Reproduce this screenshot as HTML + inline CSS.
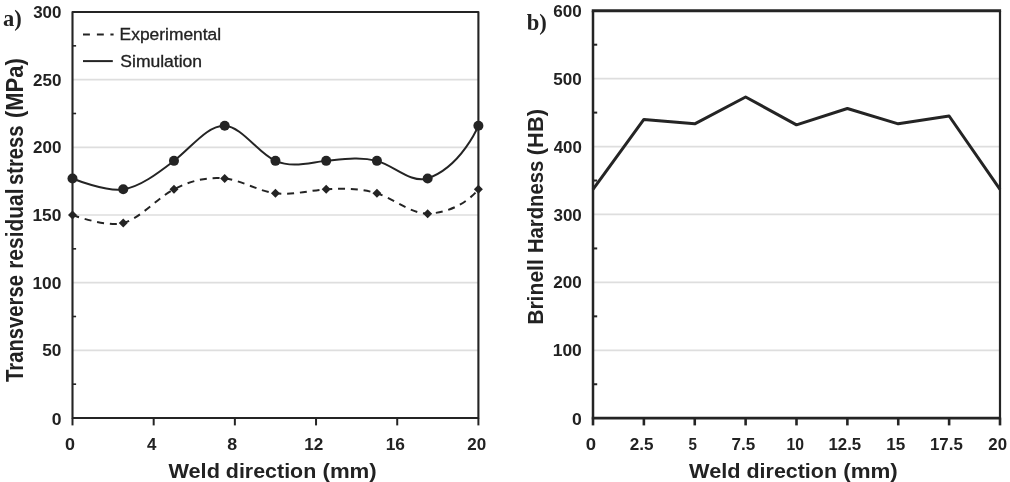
<!DOCTYPE html>
<html lang="en"><head><meta charset="utf-8"><title>Residual stress and hardness along weld direction</title>
<style>html,body{margin:0;padding:0;background:#fff;}body{width:1010px;height:482px;overflow:hidden;}svg{display:block;}text{white-space:pre;}</style>
</head><body>
<svg width="1010" height="482" viewBox="0 0 1010 482">
<rect x="0" y="0" width="1010" height="482" fill="#ffffff"/>
<g id="chart-a">
<line x1="72.50" x2="478.40" y1="350.33" y2="350.33" stroke="#dedede" stroke-width="1.7"/>
<line x1="72.50" x2="478.40" y1="282.67" y2="282.67" stroke="#dedede" stroke-width="1.7"/>
<line x1="72.50" x2="478.40" y1="215.00" y2="215.00" stroke="#dedede" stroke-width="1.7"/>
<line x1="72.50" x2="478.40" y1="147.33" y2="147.33" stroke="#dedede" stroke-width="1.7"/>
<line x1="72.50" x2="478.40" y1="79.67" y2="79.67" stroke="#dedede" stroke-width="1.7"/>
<rect x="72.50" y="12.00" width="405.90" height="406.00" fill="none" stroke="#242424" stroke-width="2.1" stroke-linejoin="round"/>
<line x1="72.50" x2="76.10" y1="384.17" y2="384.17" stroke="#242424" stroke-width="1.6"/>
<line x1="72.50" x2="76.10" y1="316.50" y2="316.50" stroke="#242424" stroke-width="1.6"/>
<line x1="72.50" x2="76.10" y1="248.83" y2="248.83" stroke="#242424" stroke-width="1.6"/>
<line x1="72.50" x2="76.10" y1="181.17" y2="181.17" stroke="#242424" stroke-width="1.6"/>
<line x1="72.50" x2="76.10" y1="113.50" y2="113.50" stroke="#242424" stroke-width="1.6"/>
<line x1="72.50" x2="76.10" y1="45.83" y2="45.83" stroke="#242424" stroke-width="1.6"/>
<line x1="72.50" x2="72.50" y1="418.00" y2="425.4" stroke="#242424" stroke-width="2"/>
<line x1="153.68" x2="153.68" y1="418.00" y2="425.4" stroke="#242424" stroke-width="2"/>
<line x1="234.86" x2="234.86" y1="418.00" y2="425.4" stroke="#242424" stroke-width="2"/>
<line x1="316.04" x2="316.04" y1="418.00" y2="425.4" stroke="#242424" stroke-width="2"/>
<line x1="397.22" x2="397.22" y1="418.00" y2="425.4" stroke="#242424" stroke-width="2"/>
<line x1="478.40" x2="478.40" y1="418.00" y2="425.4" stroke="#242424" stroke-width="2"/>
<path d="M72.50,215.00 C72.50,215.00 106.33,227.41 123.24,223.12 C140.15,218.29 157.06,198.13 173.97,189.29 C190.89,180.45 207.80,176.73 224.71,178.46 C241.62,180.19 258.54,191.22 275.45,193.35 C292.36,195.47 309.27,190.31 326.19,189.29 C343.10,188.27 360.01,188.17 376.93,193.35 C393.84,198.52 410.75,213.82 427.66,213.65 C461.49,212.29 478.40,189.29 478.40,189.29" fill="none" stroke="#242424" stroke-width="2" stroke-dasharray="7 5.8"/>
<path d="M72.50,178.46 C72.50,178.46 106.33,192.22 123.24,189.29 C140.15,186.75 157.06,173.80 173.97,160.87 C190.89,147.93 207.80,124.96 224.71,125.68 C241.62,126.40 258.54,153.42 275.45,160.87 C292.36,168.32 309.27,162.65 326.19,160.87 C343.10,159.08 360.01,156.34 376.93,160.87 C393.84,165.40 410.75,183.65 427.66,178.46 C461.49,166.73 478.40,125.68 478.40,125.68" fill="none" stroke="#242424" stroke-width="2"/>
<path d="M72.50,210.50 L77.00,215.00 L72.50,219.50 L68.00,215.00 Z" fill="#242424"/>
<path d="M123.24,218.62 L127.74,223.12 L123.24,227.62 L118.74,223.12 Z" fill="#242424"/>
<path d="M173.97,184.79 L178.47,189.29 L173.97,193.79 L169.47,189.29 Z" fill="#242424"/>
<path d="M224.71,173.96 L229.21,178.46 L224.71,182.96 L220.21,178.46 Z" fill="#242424"/>
<path d="M275.45,188.85 L279.95,193.35 L275.45,197.85 L270.95,193.35 Z" fill="#242424"/>
<path d="M326.19,184.79 L330.69,189.29 L326.19,193.79 L321.69,189.29 Z" fill="#242424"/>
<path d="M376.93,188.85 L381.43,193.35 L376.93,197.85 L372.43,193.35 Z" fill="#242424"/>
<path d="M427.66,209.15 L432.16,213.65 L427.66,218.15 L423.16,213.65 Z" fill="#242424"/>
<path d="M478.40,184.79 L482.90,189.29 L478.40,193.79 L473.90,189.29 Z" fill="#242424"/>
<circle cx="72.50" cy="178.46" r="5" fill="#242424"/>
<circle cx="123.24" cy="189.29" r="5" fill="#242424"/>
<circle cx="173.97" cy="160.87" r="5" fill="#242424"/>
<circle cx="224.71" cy="125.68" r="5" fill="#242424"/>
<circle cx="275.45" cy="160.87" r="5" fill="#242424"/>
<circle cx="326.19" cy="160.87" r="5" fill="#242424"/>
<circle cx="376.93" cy="160.87" r="5" fill="#242424"/>
<circle cx="427.66" cy="178.46" r="5" fill="#242424"/>
<circle cx="478.40" cy="125.68" r="5" fill="#242424"/>
<line x1="83" x2="113.6" y1="34.6" y2="34.6" stroke="#242424" stroke-width="2" stroke-dasharray="6.9 7 6.9 6.6 3.2 20"/>
<line x1="83" x2="112.8" y1="61.1" y2="61.1" stroke="#242424" stroke-width="2"/>
</g>
<g id="chart-b">
<line x1="593.00" x2="1000.00" y1="350.29" y2="350.29" stroke="#dedede" stroke-width="1.7"/>
<line x1="593.00" x2="1000.00" y1="282.38" y2="282.38" stroke="#dedede" stroke-width="1.7"/>
<line x1="593.00" x2="1000.00" y1="214.47" y2="214.47" stroke="#dedede" stroke-width="1.7"/>
<line x1="593.00" x2="1000.00" y1="146.57" y2="146.57" stroke="#dedede" stroke-width="1.7"/>
<line x1="593.00" x2="1000.00" y1="78.66" y2="78.66" stroke="#dedede" stroke-width="1.7"/>
<line x1="591.75" x2="1001.10" y1="10.75" y2="10.75" stroke="#242424" stroke-width="2.8"/>
<line x1="591.75" x2="1001.10" y1="418.20" y2="418.20" stroke="#242424" stroke-width="2.8"/>
<line x1="593.00" x2="593.00" y1="10.75" y2="418.20" stroke="#242424" stroke-width="2.5"/>
<line x1="1000.00" x2="1000.00" y1="10.75" y2="418.20" stroke="#242424" stroke-width="2.2"/>
<line x1="593.00" x2="597.20" y1="384.25" y2="384.25" stroke="#242424" stroke-width="2"/>
<line x1="593.00" x2="597.20" y1="316.34" y2="316.34" stroke="#242424" stroke-width="2"/>
<line x1="593.00" x2="597.20" y1="248.43" y2="248.43" stroke="#242424" stroke-width="2"/>
<line x1="593.00" x2="597.20" y1="180.52" y2="180.52" stroke="#242424" stroke-width="2"/>
<line x1="593.00" x2="597.20" y1="112.61" y2="112.61" stroke="#242424" stroke-width="2"/>
<line x1="593.00" x2="597.20" y1="44.70" y2="44.70" stroke="#242424" stroke-width="2"/>
<line x1="593.00" x2="593.00" y1="418.20" y2="425.4" stroke="#242424" stroke-width="2.6"/>
<line x1="643.88" x2="643.88" y1="418.20" y2="425.4" stroke="#242424" stroke-width="2.6"/>
<line x1="694.75" x2="694.75" y1="418.20" y2="425.4" stroke="#242424" stroke-width="2.6"/>
<line x1="745.62" x2="745.62" y1="418.20" y2="425.4" stroke="#242424" stroke-width="2.6"/>
<line x1="796.50" x2="796.50" y1="418.20" y2="425.4" stroke="#242424" stroke-width="2.6"/>
<line x1="847.38" x2="847.38" y1="418.20" y2="425.4" stroke="#242424" stroke-width="2.6"/>
<line x1="898.25" x2="898.25" y1="418.20" y2="425.4" stroke="#242424" stroke-width="2.6"/>
<line x1="949.12" x2="949.12" y1="418.20" y2="425.4" stroke="#242424" stroke-width="2.6"/>
<line x1="1000.00" x2="1000.00" y1="418.20" y2="425.4" stroke="#242424" stroke-width="2.6"/>
<polyline points="593.00,189.35 643.88,119.40 694.75,123.82 745.62,96.99 796.50,124.84 847.38,108.54 898.25,123.82 949.12,116.01 1000.00,189.35" fill="none" stroke="#242424" stroke-width="3" stroke-linejoin="round"/>
</g>
<text transform="translate(51.67,424.70) scale(1.0969,1)" font-family="&quot;Liberation Sans&quot;, sans-serif" font-weight="bold" font-size="16.0" fill="#222222">0</text>
<text transform="translate(42.28,356.43) scale(1.0754,1)" font-family="&quot;Liberation Sans&quot;, sans-serif" font-weight="bold" font-size="16.0" fill="#222222">50</text>
<text transform="translate(32.46,288.77) scale(1.0852,1)" font-family="&quot;Liberation Sans&quot;, sans-serif" font-weight="bold" font-size="16.0" fill="#222222">100</text>
<text transform="translate(32.46,221.10) scale(1.0852,1)" font-family="&quot;Liberation Sans&quot;, sans-serif" font-weight="bold" font-size="16.0" fill="#222222">150</text>
<text transform="translate(32.99,153.43) scale(1.0649,1)" font-family="&quot;Liberation Sans&quot;, sans-serif" font-weight="bold" font-size="16.0" fill="#222222">200</text>
<text transform="translate(32.99,85.77) scale(1.0649,1)" font-family="&quot;Liberation Sans&quot;, sans-serif" font-weight="bold" font-size="16.0" fill="#222222">250</text>
<text transform="translate(33.16,18.10) scale(1.0583,1)" font-family="&quot;Liberation Sans&quot;, sans-serif" font-weight="bold" font-size="16.0" fill="#222222">300</text>
<text transform="translate(64.96,449.70) scale(1.1224,1)" font-family="&quot;Liberation Sans&quot;, sans-serif" font-weight="bold" font-size="16.0" fill="#222222">0</text>
<text transform="translate(146.93,449.70) scale(1.0568,1)" font-family="&quot;Liberation Sans&quot;, sans-serif" font-weight="bold" font-size="16.0" fill="#222222">4</text>
<text transform="translate(227.37,449.70) scale(1.1125,1)" font-family="&quot;Liberation Sans&quot;, sans-serif" font-weight="bold" font-size="16.0" fill="#222222">8</text>
<text transform="translate(304.27,449.70) scale(1.0702,1)" font-family="&quot;Liberation Sans&quot;, sans-serif" font-weight="bold" font-size="16.0" fill="#222222">12</text>
<text transform="translate(385.66,449.70) scale(1.0825,1)" font-family="&quot;Liberation Sans&quot;, sans-serif" font-weight="bold" font-size="16.0" fill="#222222">16</text>
<text transform="translate(467.19,449.70) scale(1.0634,1)" font-family="&quot;Liberation Sans&quot;, sans-serif" font-weight="bold" font-size="16.0" fill="#222222">20</text>
<text transform="translate(572.07,424.70) scale(1.0969,1)" font-family="&quot;Liberation Sans&quot;, sans-serif" font-weight="bold" font-size="16.0" fill="#222222">0</text>
<text transform="translate(552.75,356.39) scale(1.0892,1)" font-family="&quot;Liberation Sans&quot;, sans-serif" font-weight="bold" font-size="16.0" fill="#222222">100</text>
<text transform="translate(553.29,288.48) scale(1.0688,1)" font-family="&quot;Liberation Sans&quot;, sans-serif" font-weight="bold" font-size="16.0" fill="#222222">200</text>
<text transform="translate(553.46,220.57) scale(1.0621,1)" font-family="&quot;Liberation Sans&quot;, sans-serif" font-weight="bold" font-size="16.0" fill="#222222">300</text>
<text transform="translate(553.63,152.67) scale(1.0556,1)" font-family="&quot;Liberation Sans&quot;, sans-serif" font-weight="bold" font-size="16.0" fill="#222222">400</text>
<text transform="translate(553.29,84.76) scale(1.0688,1)" font-family="&quot;Liberation Sans&quot;, sans-serif" font-weight="bold" font-size="16.0" fill="#222222">500</text>
<text transform="translate(553.29,16.85) scale(1.0688,1)" font-family="&quot;Liberation Sans&quot;, sans-serif" font-weight="bold" font-size="16.0" fill="#222222">600</text>
<text transform="translate(585.64,449.70) scale(1.1607,1)" font-family="&quot;Liberation Sans&quot;, sans-serif" font-weight="bold" font-size="16.0" fill="#222222">0</text>
<text transform="translate(629.69,449.70) scale(1.0682,1)" font-family="&quot;Liberation Sans&quot;, sans-serif" font-weight="bold" font-size="16.0" fill="#222222">2.5</text>
<text transform="translate(688.44,449.70) scale(0.9500,1)" font-family="&quot;Liberation Sans&quot;, sans-serif" font-weight="bold" font-size="16.0" fill="#222222">5</text>
<text transform="translate(731.52,449.70) scale(1.0669,1)" font-family="&quot;Liberation Sans&quot;, sans-serif" font-weight="bold" font-size="16.0" fill="#222222">7.5</text>
<text transform="translate(786.46,449.70) scale(0.9841,1)" font-family="&quot;Liberation Sans&quot;, sans-serif" font-weight="bold" font-size="16.0" fill="#222222">10</text>
<text transform="translate(828.49,449.70) scale(1.0517,1)" font-family="&quot;Liberation Sans&quot;, sans-serif" font-weight="bold" font-size="16.0" fill="#222222">12.5</text>
<text transform="translate(886.17,449.70) scale(1.0720,1)" font-family="&quot;Liberation Sans&quot;, sans-serif" font-weight="bold" font-size="16.0" fill="#222222">15</text>
<text transform="translate(929.99,449.70) scale(1.0550,1)" font-family="&quot;Liberation Sans&quot;, sans-serif" font-weight="bold" font-size="16.0" fill="#222222">17.5</text>
<text transform="translate(988.30,449.70) scale(1.0515,1)" font-family="&quot;Liberation Sans&quot;, sans-serif" font-weight="bold" font-size="16.0" fill="#222222">20</text>
<text transform="translate(168.40,477.80) scale(1.0399,1)" font-family="&quot;Liberation Sans&quot;, sans-serif" font-weight="bold" font-size="20.9" fill="#222222">Weld</text>
<text transform="translate(225.84,477.80) scale(1.0250,1)" font-family="&quot;Liberation Sans&quot;, sans-serif" font-weight="bold" font-size="20.9" fill="#222222">direction</text>
<text transform="translate(322.51,477.80) scale(1.0618,1)" font-family="&quot;Liberation Sans&quot;, sans-serif" font-weight="bold" font-size="20.9" fill="#222222">(mm)</text>
<text transform="translate(689.10,477.80) scale(1.0399,1)" font-family="&quot;Liberation Sans&quot;, sans-serif" font-weight="bold" font-size="20.9" fill="#222222">Weld</text>
<text transform="translate(746.54,477.80) scale(1.0250,1)" font-family="&quot;Liberation Sans&quot;, sans-serif" font-weight="bold" font-size="20.9" fill="#222222">direction</text>
<text transform="translate(843.21,477.80) scale(1.0678,1)" font-family="&quot;Liberation Sans&quot;, sans-serif" font-weight="bold" font-size="20.9" fill="#222222">(mm)</text>
<text transform="translate(23.40,381.90) rotate(-90) scale(0.8507,1)" font-family="&quot;Liberation Sans&quot;, sans-serif" font-weight="bold" font-size="23.8" fill="#222222">Transverse</text>
<text transform="translate(23.40,268.86) rotate(-90) scale(0.8818,1)" font-family="&quot;Liberation Sans&quot;, sans-serif" font-weight="bold" font-size="23.8" fill="#222222">residual</text>
<text transform="translate(23.40,185.01) rotate(-90) scale(0.8504,1)" font-family="&quot;Liberation Sans&quot;, sans-serif" font-weight="bold" font-size="23.8" fill="#222222">stress</text>
<text transform="translate(23.40,118.08) rotate(-90) scale(0.9234,1)" font-family="&quot;Liberation Sans&quot;, sans-serif" font-weight="bold" font-size="23.8" fill="#222222">(MPa)</text>
<text transform="translate(543.20,324.87) rotate(-90) scale(0.9525,1)" font-family="&quot;Liberation Sans&quot;, sans-serif" font-weight="bold" font-size="22.2" fill="#222222">Brinell</text>
<text transform="translate(543.20,253.12) rotate(-90) scale(0.9127,1)" font-family="&quot;Liberation Sans&quot;, sans-serif" font-weight="bold" font-size="22.2" fill="#222222">Hardness</text>
<text transform="translate(543.20,155.17) rotate(-90) scale(0.9843,1)" font-family="&quot;Liberation Sans&quot;, sans-serif" font-weight="bold" font-size="22.2" fill="#222222">(HB)</text>
<text transform="translate(119.61,40.10) scale(1.1168,1)" font-family="&quot;Liberation Sans&quot;, sans-serif" font-weight="normal" font-size="15.6" fill="#222222" stroke="#222222" stroke-width="0.3">Experimental</text>
<text transform="translate(120.30,67.00) scale(1.1243,1)" font-family="&quot;Liberation Sans&quot;, sans-serif" font-weight="normal" font-size="15.6" fill="#222222" stroke="#222222" stroke-width="0.3">Simulation</text>
<text transform="translate(3.12,26.40) scale(0.9783,1)" font-family="&quot;Liberation Serif&quot;, serif" font-weight="bold" font-size="23" fill="#222222">a)</text>
<text transform="translate(526.77,29.90) scale(0.9828,1)" font-family="&quot;Liberation Serif&quot;, serif" font-weight="bold" font-size="23" fill="#222222">b)</text>
</svg>
</body></html>
